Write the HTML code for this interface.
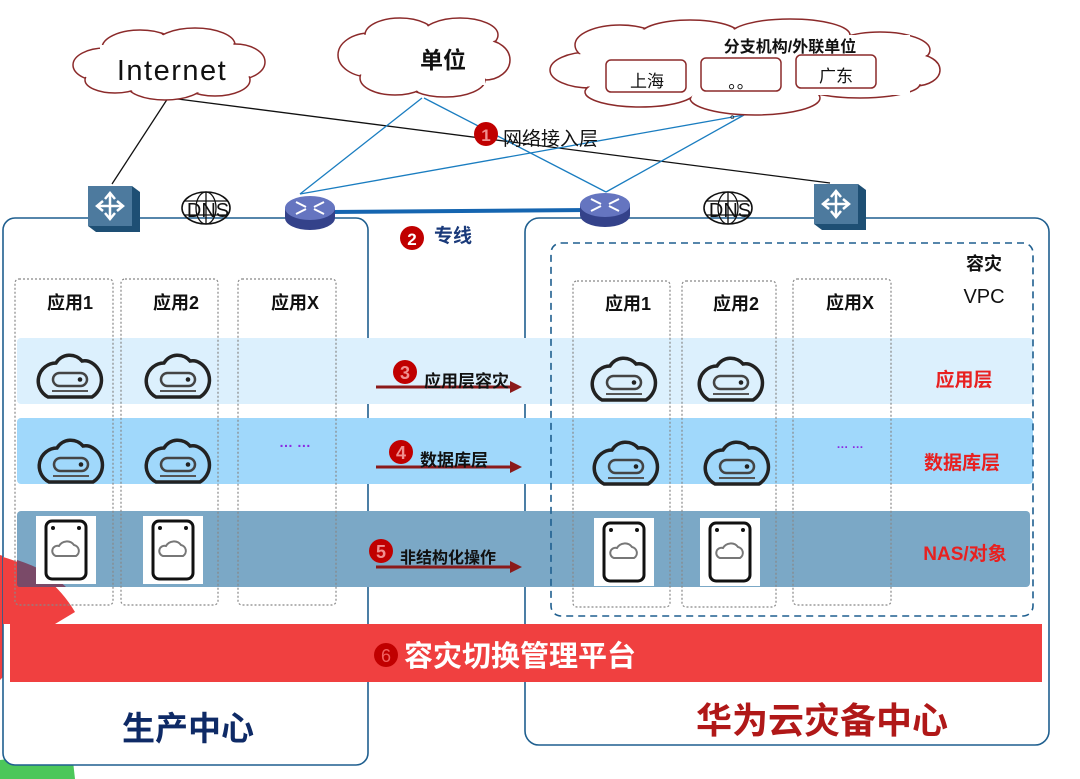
<!DOCTYPE html>
<html><head><meta charset="utf-8"><style>
body{margin:0;width:1080px;height:779px;overflow:hidden;background:#fff}
svg{display:block}
text{font-family:"Liberation Sans","Noto Sans CJK SC",sans-serif}
</style></head><body>
<svg width="1080" height="779" viewBox="0 0 1080 779" xmlns="http://www.w3.org/2000/svg">
<defs>
<g id="cl">
<path d="M-22,22 H22 A20,20 0 0 0 22,-12 A13,13 0 0 0 12,-14 A16,16 0 0 0 -14,-12 A18,18 0 0 0 -22,22 Z" fill="none" stroke="#222" stroke-width="3.5"/>
<rect x="-17" y="-2" width="34" height="13" rx="6.5" fill="none" stroke="#444" stroke-width="2.5"/>
<circle cx="10" cy="4.5" r="2.3" fill="#222"/>
<line x1="-18" y1="16" x2="18" y2="16" stroke="#555" stroke-width="2"/>
</g>
<g id="nas">
<rect x="-30" y="-34" width="60" height="68" fill="#fff"/>
<rect x="-20" y="-29" width="40" height="58" rx="6" fill="none" stroke="#111" stroke-width="3"/>
<circle cx="-13" cy="-22" r="2" fill="#111"/><circle cx="13" cy="-22" r="2" fill="#111"/>
<path d="M-10,6 H10 A6,6 0 0 0 8,-5 A9,9 0 0 0 -7,-4 A5,5 0 0 0 -10,6Z" fill="none" stroke="#777" stroke-width="2"/>
</g>
<g id="sw">
<path d="M-24,-22 L20,-22 L28,-16 L28,24 L-16,24 L-24,18Z" fill="#1e4f74"/>
<rect x="-24" y="-22" width="44" height="40" fill="#4d7a9e"/>
<g stroke="#fff" stroke-width="2.5" fill="none"><path d="M-2,-14 V10 M-14,-2 H10"/><path d="M-7,-9 L-2,-15 L3,-9 M-7,5 L-2,11 L3,5 M-9,-7 L-15,-2 L-9,3 M5,-7 L11,-2 L5,3"/></g>
</g>
<g id="rt">
<ellipse cx="0" cy="8" rx="25" ry="12" fill="#34428a"/>
<rect x="-25" y="-2" width="50" height="10" fill="#34428a"/>
<ellipse cx="0" cy="-2" rx="25" ry="12" fill="#6575c0"/>
<g stroke="#fff" stroke-width="2" fill="none"><path d="M-14,-8 L-4,-3 M14,-8 L4,-3 M-14,4 L-4,-1 M14,4 L4,-1"/></g>
</g>
<g id="dns">
<ellipse cx="0" cy="0" rx="24" ry="16" fill="none" stroke="#111" stroke-width="1.6"/>
<ellipse cx="0" cy="0" rx="10" ry="16" fill="none" stroke="#111" stroke-width="1.3"/>
<path d="M0,-16 V16 M-22,-7 H22 M-22,7 H22" stroke="#111" stroke-width="1.3"/>
<text x="2" y="9" font-size="20" text-anchor="middle" fill="#111">DNS</text>
</g>
</defs>

<!-- corner decorations -->
<path d="M0,555 Q50,570 75,612 L55,624 L0,680 Z" fill="#f04040"/>
<path d="M0,779 L0,760 L72,752 L75,779Z" fill="#4cc75a"/>

<!-- main boxes -->
<rect x="3" y="218" width="365" height="547" rx="12" fill="#fff" stroke="#1f5f8f" stroke-width="1.6"/>
<rect x="525" y="218" width="524" height="527" rx="14" fill="#fff" stroke="#1f5f8f" stroke-width="1.6"/>
<path d="M3,557 Q50,570 75,612 L55,624 L3,624Z" fill="#f04040"/>

<!-- bands -->
<rect x="17" y="338" width="1016" height="66" rx="4" fill="#dcf0fd"/>
<rect x="17" y="418" width="1016" height="66" rx="4" fill="#a0d8fb"/>
<rect x="17" y="511" width="1013" height="76" rx="4" fill="#7ba8c6"/>
<path d="M17,560 Q48,570 66,587 L20,587 Q17,587 17,584Z" fill="#7a4a68"/>

<!-- dotted columns -->
<g fill="none" stroke="#888" stroke-width="1.2" stroke-dasharray="2,2">
<rect x="15" y="279" width="98" height="326" rx="4"/>
<rect x="121" y="279" width="97" height="326" rx="4"/>
<rect x="238" y="279" width="98" height="326" rx="4"/>
<rect x="573" y="281" width="97" height="326" rx="4"/>
<rect x="682" y="281" width="94" height="326" rx="4"/>
<rect x="793" y="279" width="98" height="326" rx="4"/>
</g>
<rect x="551" y="243" width="482" height="373" rx="10" fill="none" stroke="#1f5f8f" stroke-width="1.6" stroke-dasharray="7,5"/>

<!-- red bar -->
<rect x="10" y="624" width="1032" height="58" fill="#f04040"/>
<circle cx="386" cy="655" r="12" fill="#c00000"/>
<text x="386" y="662" font-size="18" fill="#f06060" text-anchor="middle">6</text>
<text x="404" y="666" font-size="29" font-weight="bold" fill="#fff">容灾切换管理平台</text>

<!-- column headers -->
<g font-size="18" font-weight="bold" fill="#111" text-anchor="middle">
<text x="70" y="309">应用1</text><text x="176" y="309">应用2</text><text x="295" y="309">应用X</text>
<text x="628" y="310">应用1</text><text x="736" y="310">应用2</text><text x="850" y="309">应用X</text>
<text x="984" y="270">容灾</text><text x="984" y="303" font-weight="normal" font-size="20">VPC</text>
</g>
<g font-size="19" font-weight="bold" fill="#e82020" text-anchor="middle">
<text x="964" y="386">应用层</text><text x="962" y="469">数据库层</text><text x="965" y="560">NAS/对象</text>
</g>
<text x="295" y="447" font-size="14" fill="#8a2be2" text-anchor="middle" font-weight="bold">…  …</text>
<text x="850" y="448" font-size="12" fill="#8a2be2" text-anchor="middle" font-weight="bold">… …</text>

<!-- icons -->
<use href="#cl" x="70" y="375"/><use href="#cl" x="178" y="375"/>
<use href="#cl" x="71" y="460"/><use href="#cl" x="178" y="460"/>
<use href="#cl" x="624" y="378"/><use href="#cl" x="731" y="378"/>
<use href="#cl" x="626" y="462"/><use href="#cl" x="737" y="462"/>
<use href="#nas" x="66" y="550"/><use href="#nas" x="173" y="550"/>
<use href="#nas" x="624" y="552"/><use href="#nas" x="730" y="552"/>

<!-- arrows -->
<g stroke="#8b1a1a" stroke-width="3" fill="#8b1a1a">
<line x1="376" y1="387" x2="512" y2="387"/><path d="M510,381 L522,387 L510,393Z" stroke="none"/>
<line x1="376" y1="467" x2="512" y2="467"/><path d="M510,461 L522,467 L510,473Z" stroke="none"/>
<line x1="376" y1="567" x2="512" y2="567"/><path d="M510,561 L522,567 L510,573Z" stroke="none"/>
</g>
<g font-weight="bold">
<circle cx="405" cy="372" r="12" fill="#c00000"/><text x="405" y="379" font-size="18" fill="#f09090" text-anchor="middle">3</text>
<text x="424" y="387" font-size="17" fill="#111">应用层容灾</text>
<circle cx="401" cy="452" r="12" fill="#c00000"/><text x="401" y="459" font-size="18" fill="#f09090" text-anchor="middle">4</text>
<text x="420" y="466" font-size="17" fill="#111">数据库层</text>
<circle cx="381" cy="551" r="12" fill="#c00000"/><text x="381" y="558" font-size="18" fill="#f09090" text-anchor="middle">5</text>
<text x="400" y="563" font-size="16" fill="#111">非结构化操作</text>
</g>

<!-- bottom labels -->
<text x="188" y="740" font-size="33" font-weight="bold" fill="#0e2a66" text-anchor="middle">生产中心</text>
<text x="822" y="733" font-size="36" font-weight="bold" fill="#b01818" text-anchor="middle">华为云灾备中心</text>

<!-- connection lines -->
<g fill="none" stroke-width="1.3">
<line x1="168" y1="98" x2="112" y2="184" stroke="#111"/>
<line x1="170" y1="98" x2="830" y2="183" stroke="#111"/>
<line x1="422" y1="98" x2="300" y2="194" stroke="#1a7dc0"/>
<line x1="424" y1="98" x2="606" y2="192" stroke="#1a7dc0"/>
<line x1="744" y1="115" x2="300" y2="194" stroke="#1a7dc0"/>
<line x1="744" y1="115" x2="606" y2="192" stroke="#1a7dc0"/>
</g>
<line x1="330" y1="212" x2="590" y2="210" stroke="#1565b0" stroke-width="4"/>

<!-- devices -->
<use href="#sw" x="112" y="208"/><use href="#sw" x="838" y="206"/>
<use href="#rt" x="310" y="210"/><use href="#rt" x="605" y="207"/>
<use href="#dns" x="206" y="208"/><use href="#dns" x="728" y="208"/>

<!-- clouds -->
<g fill="#fff" stroke="#8b2a2a" stroke-width="1.5">
<g>
<ellipse cx="105" cy="65" rx="32" ry="17"/><ellipse cx="140" cy="48" rx="38" ry="18"/><ellipse cx="195" cy="45" rx="40" ry="17"/><ellipse cx="235" cy="62" rx="30" ry="18"/><ellipse cx="215" cy="80" rx="35" ry="16"/><ellipse cx="165" cy="85" rx="38" ry="15"/><ellipse cx="115" cy="80" rx="30" ry="13"/>
</g>
<g>
<ellipse cx="370" cy="55" rx="32" ry="22"/><ellipse cx="400" cy="35" rx="35" ry="17"/><ellipse cx="460" cy="35" rx="38" ry="17"/><ellipse cx="485" cy="60" rx="25" ry="20"/><ellipse cx="445" cy="80" rx="40" ry="17"/><ellipse cx="395" cy="78" rx="35" ry="17"/>
</g>
<g>
<ellipse cx="590" cy="70" rx="40" ry="18"/><ellipse cx="620" cy="45" rx="45" ry="20"/><ellipse cx="690" cy="35" rx="50" ry="15"/><ellipse cx="790" cy="35" rx="60" ry="16"/><ellipse cx="880" cy="50" rx="50" ry="18"/><ellipse cx="915" cy="70" rx="25" ry="16"/><ellipse cx="860" cy="84" rx="60" ry="14"/><ellipse cx="755" cy="98" rx="65" ry="17"/><ellipse cx="640" cy="92" rx="55" ry="15"/>
</g>
</g>
<g fill="#fff">
<ellipse cx="105" cy="65" rx="30.5" ry="15.5"/><ellipse cx="140" cy="48" rx="36.5" ry="16.5"/><ellipse cx="195" cy="45" rx="38.5" ry="15.5"/><ellipse cx="235" cy="62" rx="28.5" ry="16.5"/><ellipse cx="215" cy="80" rx="33.5" ry="14.5"/><ellipse cx="165" cy="85" rx="36.5" ry="13.5"/><ellipse cx="115" cy="80" rx="28.5" ry="11.5"/>
<ellipse cx="370" cy="55" rx="30.5" ry="20.5"/><ellipse cx="400" cy="35" rx="33.5" ry="15.5"/><ellipse cx="460" cy="35" rx="36.5" ry="15.5"/><ellipse cx="485" cy="60" rx="23.5" ry="18.5"/><ellipse cx="445" cy="80" rx="38.5" ry="15.5"/><ellipse cx="395" cy="78" rx="33.5" ry="15.5"/>
<ellipse cx="590" cy="70" rx="38.5" ry="16.5"/><ellipse cx="620" cy="45" rx="43.5" ry="18.5"/><ellipse cx="690" cy="35" rx="48.5" ry="13.5"/><ellipse cx="790" cy="35" rx="58.5" ry="14.5"/><ellipse cx="880" cy="50" rx="48.5" ry="16.5"/><ellipse cx="915" cy="70" rx="23.5" ry="14.5"/><ellipse cx="860" cy="84" rx="58.5" ry="12.5"/><ellipse cx="755" cy="98" rx="63.5" ry="15.5"/><ellipse cx="640" cy="92" rx="53.5" ry="13.5"/>
<rect x="100" y="45" width="140" height="40"/><rect x="375" y="40" width="110" height="45"/><rect x="590" y="35" width="320" height="60"/>
</g>
<text x="172" y="80" font-size="29" fill="#111" text-anchor="middle" letter-spacing="1.5">Internet</text>
<text x="443" y="68" font-size="23" font-weight="bold" fill="#111" text-anchor="middle">单位</text>
<text x="790" y="52" font-size="16" font-weight="bold" fill="#111" text-anchor="middle">分支机构/外联单位</text>
<g fill="none" stroke="#8b2a2a" stroke-width="1.5">
<rect x="606" y="60" width="80" height="32" rx="5"/><rect x="701" y="58" width="80" height="33" rx="5"/><rect x="796" y="55" width="80" height="33" rx="5"/>
</g>
<g font-size="17" fill="#111" text-anchor="middle">
<text x="647" y="87">上海</text><text x="741" y="88">。。</text><text x="836" y="82">广东</text><text x="736" y="118" font-size="12">。</text>
</g>

<!-- labels 1,2 -->
<circle cx="486" cy="134" r="12" fill="#c00000"/><text x="486" y="141" font-size="17" font-weight="bold" fill="#f09090" text-anchor="middle">1</text>
<text x="503" y="145" font-size="19" fill="#111">网络接入层</text>
<circle cx="412" cy="238" r="12" fill="#c00000"/><text x="412" y="245" font-size="17" font-weight="bold" fill="#fff" text-anchor="middle">2</text>
<text x="434" y="242" font-size="19" font-weight="bold" fill="#1a3a7a">专线</text>
</svg>
</body></html>
